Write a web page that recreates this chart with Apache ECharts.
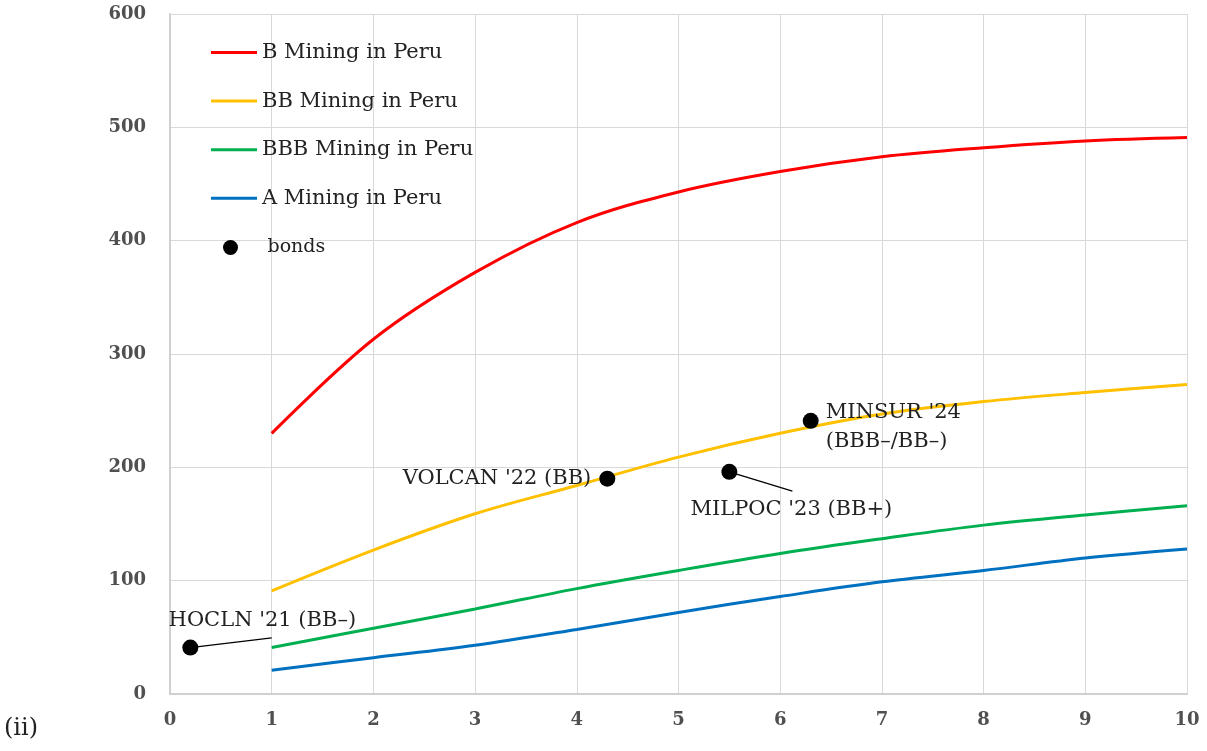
<!DOCTYPE html>
<html><head><meta charset="utf-8">
<script src="https://cdn.jsdelivr.net/npm/echarts@6/dist/echarts.min.js"></script>
<style>html,body{margin:0;padding:0;background:#fff}#c{width:1207px;height:751px}</style>
</head><body><div id="c"></div>
<script>
const xValues = [1,2,3,4,5,6,7,8,9,10];
const bMining   = [230,313,372,416,443,461,474,482,488,491];
const bbMining  = [91,127,159,184,209,230,247,258,266,273];
const bbbMining = [41,58,75,93,109,124,137,149,158,166];
const aMining   = [21,32,43,57,72,86,99,109,120,128];
const seriesNames = ['B Mining in Peru','BB Mining in Peru','BBB Mining in Peru','A Mining in Peru'];
const bondNames = ["HOCLN '21 (BB\u2013)", "VOLCAN '22 (BB)", "MILPOC '23 (BB+)", "MINSUR '24\n(BBB\u2013/BB\u2013)"];
const bondX = [0.2, 4.3, 5.5, 6.3];
const bondY = [41, 190, 196, 241];
const leaderHOCLN = [[0.2,41],[1.0,49.5]];
const leaderMILPOC = [[5.5,196],[6.12,179]];

const FONT = "DejaVu Serif";
const zip = (xs, ys) => xs.map((x,i)=>[x, ys[i]]);
const chart = echarts.init(document.getElementById('c'));
const lineS = (name, data, color) => ({
  name, type:'line', data: zip(xValues, data), smooth: 0.35, symbol:'none',
  lineStyle:{color, width:3}, itemStyle:{color}, z:3
});
const labelCfg = [
  {position:'top', offset:[72,1]},
  {position:'left', offset:[-3,0]},
  {position:'bottom', offset:[62,10]},
  {position:'right', offset:[2,6], align:'left'}
];
chart.setOption({
  animation:false,
  textStyle:{fontFamily:FONT},
  grid:{left:170, right:20, top:14, bottom:57},
  xAxis:{type:'value', min:0, max:10, interval:1,
    axisLine:{show:true, lineStyle:{color:'#d0d0d0', width:2}}, axisTick:{show:false},
    splitLine:{show:true, lineStyle:{color:'#d9d9d9', width:1}},
    axisLabel:{color:'#505050', fontFamily:FONT, fontSize:18, fontWeight:'bold', margin:17}},
  yAxis:{type:'value', min:0, max:600, interval:100,
    axisLine:{show:true, lineStyle:{color:'#d0d0d0', width:2}}, axisTick:{show:false},
    splitLine:{show:true, lineStyle:{color:'#d9d9d9', width:1}},
    axisLabel:{color:'#505050', fontFamily:FONT, fontSize:18, fontWeight:'bold', margin:24}},
  legend:[
    {orient:'vertical', left:206, top:37, itemGap:27.6, itemWidth:46, itemHeight:3, icon:'rect',
      textStyle:{fontFamily:FONT, fontSize:21, color:'#222'},
      data:seriesNames},
    {orient:'vertical', left:218, top:233, itemWidth:64, itemHeight:15, icon:'circle',
      textStyle:{fontFamily:FONT, fontSize:19, color:'#222'},
      data:['bonds']}
  ],
  graphic:[{type:'text', left:4, top:717, style:{text:'(ii)', fontFamily:FONT, fontSize:24, fill:'#222'}}],
  series:[
    lineS(seriesNames[0], bMining, '#ff0000'),
    lineS(seriesNames[1], bbMining, '#ffc000'),
    lineS(seriesNames[2], bbbMining, '#00b050'),
    lineS(seriesNames[3], aMining, '#0070c0'),
    {name:'leader1', type:'line', data:leaderHOCLN, symbol:'none', lineStyle:{color:'#000', width:1.3}, z:4, silent:true},
    {name:'leader2', type:'line', data:leaderMILPOC, symbol:'none', lineStyle:{color:'#000', width:1.3}, z:4, silent:true},
    {name:'bonds', type:'scatter', symbol:'circle', symbolSize:16, itemStyle:{color:'#000', opacity:1}, z:5,
      data: bondX.map((x,i)=>({value:[x, bondY[i]], name:bondNames[i],
        label:Object.assign({show:true, formatter:bondNames[i], fontFamily:FONT, fontSize:21, color:'#222', lineHeight:29}, labelCfg[i])}))}
  ]
});
</script></body></html>
